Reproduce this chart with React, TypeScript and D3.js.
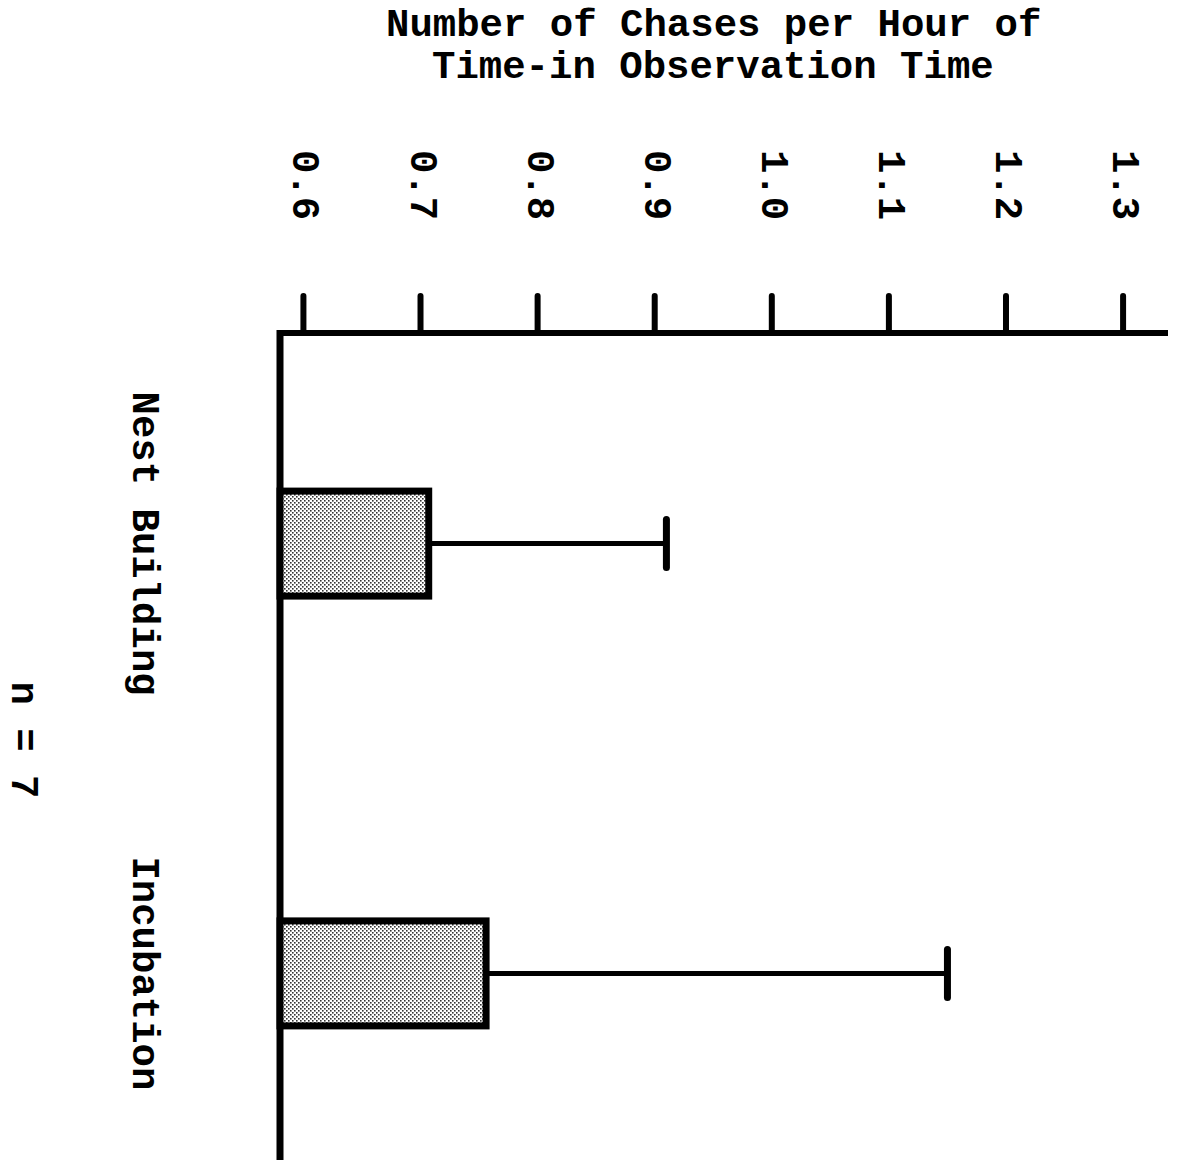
import React from "react";
import * as d3 from "d3";

const categories = ["Nest Building", "Incubation"];
const means = [0.707, 0.756];
const errorTops = [0.91, 1.15];
const tickValues = [0.6, 0.7, 0.8, 0.9, 1.0, 1.1, 1.2, 1.3];
const titleLines = ["Number of Chases per Hour of", "Time-in Observation Time"];
const sampleNote = "n = 7";

const W = 1178;
const H = 1160;
const FONT = "'Liberation Mono', 'Courier New', monospace";

export default function App() {
  const x = d3.scaleLinear().domain([0.58, 1.3375]).range([280, 1167]);
  const y = d3.scalePoint<string>().domain(categories).range([333, 1184]).padding(0.49);
  const barH = 105;
  const x0 = x.domain()[0];

  return (
    <svg width={W} height={H} style={{ position: "absolute", left: 0, top: 0, background: "#fff" }}>
      <defs>
        <pattern id="stip" width="4" height="4" patternUnits="userSpaceOnUse">
          <rect width="4" height="4" fill="#ffffff" />
          <rect x="0" y="0" width="1.6" height="1.6" fill="#333" />
          <rect x="2" y="2" width="1.6" height="1.6" fill="#333" />
        </pattern>
      </defs>
      <g fontFamily={FONT} fontWeight="bold" fill="#000">
        <text x={386} y={36} fontSize={39}>{titleLines[0]}</text>
        <text x={432} y={78} fontSize={39}>{titleLines[1]}</text>
      </g>
      {tickValues.map((t) => (
        <g key={t}>
          <line x1={x(t)} x2={x(t)} y1={296} y2={333} stroke="#000" strokeWidth={6} strokeLinecap="round" />
          <text
            transform={`translate(${x(t) - 10},150) rotate(90)`}
            fontFamily={FONT}
            fontWeight="bold"
            fontSize={39}
            textAnchor="start"
          >
            {d3.format(".1f")(t)}
          </text>
        </g>
      ))}
      <line x1={277} x2={1168} y1={333} y2={333} stroke="#000" strokeWidth={6} />
      <line x1={x(x0)} x2={x(x0)} y1={330} y2={H} stroke="#000" strokeWidth={7} />
      {categories.map((c, i) => {
        const cy = y(c) as number;
        return (
          <g key={c}>
            <line x1={x(means[i])} x2={x(errorTops[i])} y1={cy} y2={cy} stroke="#000" strokeWidth={5} />
            <line x1={x(errorTops[i])} x2={x(errorTops[i])} y1={cy - 24} y2={cy + 24} stroke="#000" strokeWidth={7} strokeLinecap="round" />
            <rect
              x={x(x0)}
              y={cy - barH / 2}
              width={x(means[i]) - x(x0)}
              height={barH}
              fill="url(#stip)"
              stroke="#000"
              strokeWidth={7}
            />
            <text
              transform={`translate(133,${cy}) rotate(90)`}
              fontFamily={FONT}
              fontWeight="bold"
              fontSize={39}
              textAnchor="middle"
            >
              {c}
            </text>
          </g>
        );
      })}
      <text
        transform={`translate(12,740) rotate(90)`}
        fontFamily={FONT}
        fontWeight="bold"
        fontSize={39}
        textAnchor="middle"
      >
        {sampleNote}
      </text>
    </svg>
  );
}
